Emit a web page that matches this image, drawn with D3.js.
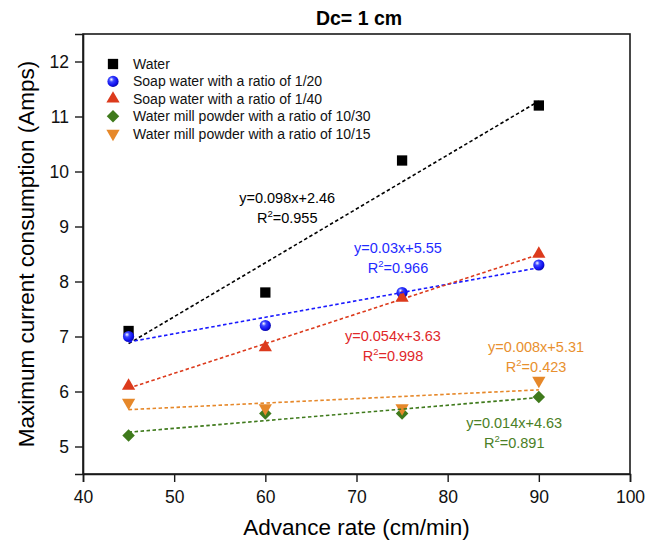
<!DOCTYPE html>
<html>
<head>
<meta charset="utf-8">
<script src="https://cdn.jsdelivr.net/npm/d3@7"></script>
<style>
  body { margin: 0; background: #fff; }
  text { font-family: "Liberation Sans", Arial, sans-serif; }
</style>
</head>
<body>
<div id="chart"></div>
<script>
(function () {
  'use strict';

  // data
  const advanceRate = [45, 60, 75, 90];
  const water = [7.1, 7.8, 10.2, 11.2];
  const soap20 = [7.0, 7.2, 7.8, 8.3];
  const soap40 = [6.1, 6.8, 7.7, 8.5];
  const mill30 = [5.2, 5.6, 5.6, 5.9];
  const mill15 = [5.8, 5.7, 5.7, 6.2];
  const seriesNames = [
    'Water',
    'Soap water with a ratio of 1/20',
    'Soap water with a ratio of 1/40',
    'Water mill powder with a ratio of 10/30',
    'Water mill powder with a ratio of 10/15'
  ];
  const eqLabels = ['y=0.098x+2.46', 'y=0.03x+5.55', 'y=0.054x+3.63', 'y=0.014x+4.63', 'y=0.008x+5.31'];
  const r2Labels = ['0.955', '0.966', '0.998', '0.891', '0.423'];
  const xTicks = [40, 50, 60, 70, 80, 90, 100];
  const yTicks = [5, 6, 7, 8, 9, 10, 11, 12];

  // styles / layout
  const markerColors = ['#000000', '#1a1aff', '#dc3a1c', '#3f7a1c', '#e6882a'];
  const textColors = ['#000000', '#1f2bff', '#e0282a', '#4a8026', '#e8902e'];
  const shapes = ['square', 'sphere', 'up', 'diamond', 'down'];
  // equation label anchors, in data units (centre x, first baseline y)
  const eqPos = [[62.4, 9.43], [74.55, 8.52], [74.0, 6.92], [87.3, 5.34], [89.7, 6.72]];

  const allSeries = [water, soap20, soap40, mill30, mill15];

  const width = 659, height = 546;
  const margin = { top: 34, right: 29, bottom: 72, left: 83 };

  const svg = d3.select('#chart').append('svg')
    .attr('width', width)
    .attr('height', height);

  const defs = svg.append('defs');
  const grad = defs.append('radialGradient')
    .attr('id', 'ball')
    .attr('cx', '40%').attr('cy', '38%').attr('r', '60%')
    .attr('fx', '35%').attr('fy', '32%');
  grad.append('stop').attr('offset', '0%').attr('stop-color', '#ffffff');
  grad.append('stop').attr('offset', '35%').attr('stop-color', '#3a46ff');
  grad.append('stop').attr('offset', '80%').attr('stop-color', '#1010ee');
  grad.append('stop').attr('offset', '100%').attr('stop-color', '#0a0ab0');

  const x = d3.scaleLinear().domain([40, 100]).range([margin.left, width - margin.right]);
  const y = d3.scaleLinear().domain([4.5, 12.5]).range([height - margin.bottom, margin.top]);

  // frame
  svg.append('rect')
    .attr('x', x(40)).attr('y', y(12.5))
    .attr('width', x(100) - x(40)).attr('height', y(4.5) - y(12.5))
    .attr('fill', 'none').attr('stroke', '#1a1a1a').attr('stroke-width', 1.6);

  // axes
  const xAxis = svg.append('g')
    .attr('transform', `translate(0,${y(4.5)})`)
    .call(d3.axisBottom(x).tickValues(xTicks).tickSize(8).tickPadding(9));
  const yAxis = svg.append('g')
    .attr('transform', `translate(${x(40)},0)`)
    .call(d3.axisLeft(y).tickValues(yTicks).tickSize(8).tickPadding(6));
  [xAxis, yAxis].forEach(g => {
    g.select('.domain').attr('stroke', '#1a1a1a').attr('stroke-width', 1.6);
    g.selectAll('.tick line').attr('stroke', '#1a1a1a').attr('stroke-width', 1.4);
    g.selectAll('.tick text')
      .attr('fill', '#111')
      .style('font-size', '17.5px')
      .style('font-family', '"Liberation Sans", Arial, sans-serif');
  });

  // titles
  svg.append('text')
    .attr('x', 359).attr('y', 25)
    .attr('text-anchor', 'middle')
    .style('font-size', '19.5px').style('font-weight', 'bold')
    .text('Dc= 1 cm');

  svg.append('text')
    .attr('x', (x(40) + x(100)) / 2).attr('y', 535)
    .attr('text-anchor', 'middle')
    .style('font-size', '22.5px')
    .text('Advance rate (cm/min)');

  svg.append('text')
    .attr('transform', `translate(34,${(y(4.5) + y(12.5)) / 2}) rotate(-90)`)
    .attr('text-anchor', 'middle')
    .style('font-size', '22.5px')
    .text('Maximum current consumption (Amps)');

  // markers
  function drawMarker(g, shape, color) {
    if (shape === 'square') {
      g.append('path').attr('d', d3.symbol(d3.symbolSquare, 106)()).attr('fill', color);
    } else if (shape === 'sphere') {
      g.append('circle').attr('r', 5.6).attr('fill', 'url(#ball)');
    } else if (shape === 'up') {
      g.append('path').attr('d', d3.symbol(d3.symbolTriangle, 76)()).attr('fill', color);
    } else if (shape === 'down') {
      g.append('path').attr('d', d3.symbol(d3.symbolTriangle, 76)())
        .attr('transform', 'rotate(180)').attr('fill', color);
    } else if (shape === 'diamond') {
      g.append('path').attr('d', d3.symbol(d3.symbolSquare, 78)())
        .attr('transform', 'rotate(45)').attr('fill', color);
    }
  }

  // least squares fit of each series
  function fit(xs, ys) {
    const mx = d3.mean(xs), my = d3.mean(ys);
    const sxy = d3.sum(xs, (v, i) => (v - mx) * (ys[i] - my));
    const sxx = d3.sum(xs, v => (v - mx) * (v - mx));
    const b = sxy / sxx;
    return { b: b, a: my - b * mx };
  }

  const line = d3.line().x(d => x(d[0])).y(d => y(d[1]));

  allSeries.forEach((vals, i) => {
    const g = svg.append('g');
    vals.forEach((v, j) => {
      const m = g.append('g').attr('transform', `translate(${x(advanceRate[j])},${y(v)})`);
      drawMarker(m, shapes[i], markerColors[i]);
    });
  });

  allSeries.forEach((vals, i) => {
    const f = fit(advanceRate, vals);
    const x0 = d3.min(advanceRate), x1 = d3.max(advanceRate);
    svg.append('path')
      .attr('d', line([[x0, f.a + f.b * x0], [x1, f.a + f.b * x1]]))
      .attr('fill', 'none')
      .attr('stroke', markerColors[i])
      .attr('stroke-width', 1.6)
      .attr('stroke-dasharray', '3.5,2.5');
  });

  // equation labels
  eqLabels.forEach((eq, i) => {
    const px = x(eqPos[i][0]), py = y(eqPos[i][1]);
    const g = svg.append('g').attr('fill', textColors[i]).style('font-size', '14.5px');
    g.append('text').attr('x', px).attr('y', py).attr('text-anchor', 'middle').text(eq);
    const t = g.append('text').attr('x', px).attr('y', py + 20).attr('text-anchor', 'middle');
    t.append('tspan').text('R');
    t.append('tspan').attr('dy', -6).style('font-size', '9.5px').text('2');
    t.append('tspan').attr('dy', 6).text('=' + r2Labels[i]);
  });

  // legend
  const legend = svg.append('g').attr('transform', 'translate(113,64)');
  seriesNames.forEach((name, i) => {
    const row = legend.append('g').attr('transform', `translate(0,${i * 17.4})`);
    drawMarker(row, shapes[i], markerColors[i]);
    row.append('text')
      .attr('x', 20).attr('y', 5)
      .style('font-size', '14px')
      .attr('fill', '#111')
      .text(name);
  });
})();
</script>
</body>
</html>
